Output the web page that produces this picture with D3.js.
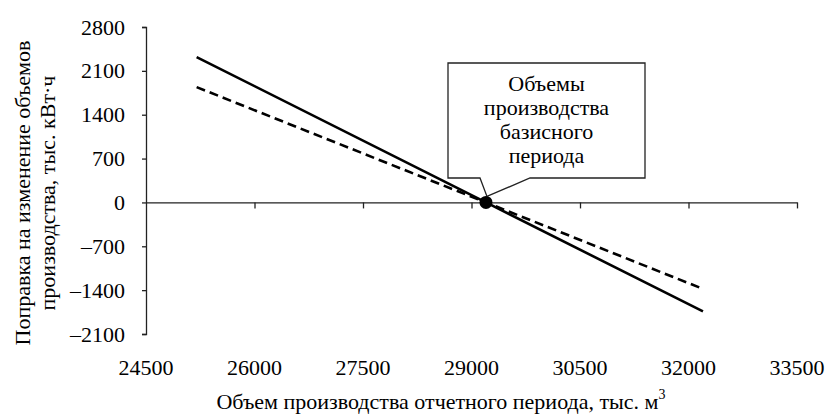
<!DOCTYPE html>
<html>
<head>
<meta charset="utf-8">
<script src="https://cdn.jsdelivr.net/npm/d3@7"></script>
</head>
<body style="margin:0;background:#fff">
<svg id="chart" width="825" height="414" style="display:block"></svg>
<script>
// Production volume of the reporting period, thousand m3
const volume = [25200, 29200, 32200];
// Correction for change in production volume, thousand kWh
const correctionSolid = [2320, 0, -1740];
const correctionDashed = [1840, 0, -1380];
// Base-period volume (callout point)
const basePoint = { x: 29200, y: 0 };
const calloutLines = ["Объемы", "производства", "базисного", "периода"];

const xTicks = [24500, 26000, 27500, 29000, 30500, 32000, 33500];
const yTicks = [2800, 2100, 1400, 700, 0, -700, -1400, -2100];

const FONT = '"Liberation Serif"';
const FS = "22px";
const axisColor = "#222";

// every text node gets the serif face explicitly
const serif = sel => sel
  .attr("font-family", "Liberation Serif")
  .style("font-family", FONT)
  .style("font-size", FS)
  .attr("fill", "#000");

const svg = d3.select("#chart");
const x = d3.scaleLinear().domain([24500, 33500]).range([146, 797]);
const y = d3.scaleLinear().domain([-2100, 2800]).range([334, 27]);

const fmt = v => v < 0 ? "\u2013" + Math.abs(v) : String(v);

// vertical axis with ticks pointing left
const yAxis = svg.append("g")
  .attr("transform", `translate(${x(24500)},0)`)
  .call(d3.axisLeft(y).tickValues(yTicks).tickSize(4).tickPadding(17).tickFormat(fmt));
yAxis.attr("font-family", null).attr("font-size", null);
yAxis.select(".domain").attr("stroke", axisColor).attr("stroke-width", 1.3);
yAxis.selectAll(".tick line").attr("stroke", axisColor).attr("stroke-width", 1.3);
yAxis.selectAll(".tick text").call(serif);

// horizontal axis along zero, ticks pointing down
const xAxis = svg.append("g")
  .attr("transform", `translate(0,${y(0)})`)
  .call(d3.axisBottom(x).tickValues(xTicks).tickSize(6).tickSizeOuter(0).tickFormat(""));
xAxis.select(".domain").attr("stroke", axisColor).attr("stroke-width", 1.3);
xAxis.selectAll(".tick line").attr("stroke", axisColor).attr("stroke-width", 1.3);
xAxis.selectAll(".tick").filter(d => d === 24500).select("line").remove();

// x tick labels sit below the plot area
svg.append("g").selectAll("text").data(xTicks).join("text")
  .attr("x", d => x(d)).attr("y", 375)
  .attr("text-anchor", "middle")
  .call(serif)
  .text(d => fmt(d));

// series lines
const line = d3.line().x(d => x(d[0])).y(d => y(d[1]));
svg.append("path")
  .datum(volume.map((v, i) => [v, correctionDashed[i]]))
  .attr("d", line).attr("fill", "none").attr("stroke", "#000")
  .attr("stroke-width", 2.6).attr("stroke-dasharray", "9,5");
svg.append("path")
  .datum(volume.map((v, i) => [v, correctionSolid[i]]))
  .attr("d", line).attr("fill", "none").attr("stroke", "#000")
  .attr("stroke-width", 2.6);

// callout box with pointer to the base-period point
const bx0 = 448, bx1 = 645, by0 = 63, by1 = 178;
const px = x(basePoint.x), py = y(basePoint.y);
svg.append("path")
  .attr("d", `M${bx0},${by0}H${bx1}V${by1}H530L${px + 1},${py - 6}L480,${by1}H${bx0}Z`)
  .attr("fill", "#fff").attr("stroke", axisColor).attr("stroke-width", 1.3);
svg.append("g").selectAll("text").data(calloutLines).join("text")
  .attr("x", (bx0 + bx1) / 2).attr("y", (d, i) => 91 + i * 24)
  .attr("text-anchor", "middle")
  .call(serif)
  .text(d => d);

svg.append("circle").attr("cx", px).attr("cy", py).attr("r", 6.5).attr("fill", "#000");

// axis titles
const yTitle = svg.append("text")
  .attr("transform", "translate(0,193) rotate(-90)")
  .attr("text-anchor", "middle")
  .call(serif);
yTitle.append("tspan").attr("x", 0).attr("y", 30).text("Поправка на изменение объемов");
yTitle.append("tspan").attr("x", 0).attr("y", 55).text("производства, тыс. кВт·ч");

const xTitle = svg.append("text")
  .attr("x", 441).attr("y", 409).attr("text-anchor", "middle")
  .call(serif);
xTitle.append("tspan").text("Объем производства отчетного периода, тыс. м");
xTitle.append("tspan").style("font-size", "14px").attr("dy", -10).text("3");
</script>
</body>
</html>
